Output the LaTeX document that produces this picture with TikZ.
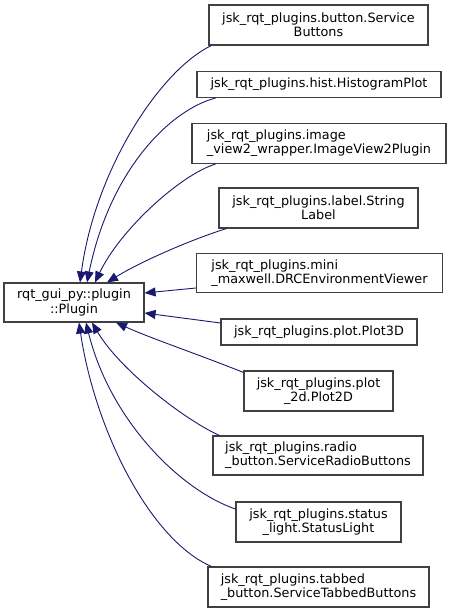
\documentclass[tikz,border=0pt]{standalone}
\usepackage{fontspec}
\setmainfont{DejaVu Sans}
\usetikzlibrary{arrows.meta,calc}
\definecolor{edgeblue}{HTML}{191970}
\definecolor{boxgray}{HTML}{404040}
\begin{document}
\begin{tikzpicture}[x=1pt,y=-1pt,
  cls/.style={draw=boxgray, line width=1.1pt, fill=white, inner sep=0pt,
    font=\fontsize{12.8}{14.2}\selectfont, text=black},
  inh/.style={draw=edgeblue, line width=0.9pt,
    -{Triangle[length=11pt,width=9pt,fill=edgeblue]}}]
\useasboundingbox (0,0) rectangle (451,613);
\fill[white] (0,0) rectangle (451,613);

\node[cls, minimum width=140pt, minimum height=39pt, align=center] (plug) at (74,302.5)
  {rqt\_gui\_py::plugin\\::Plugin};

\node[cls, minimum width=219pt, minimum height=40pt, align=center] (b1) at (318.5,25)
  {jsk\_rqt\_plugins.button.Service\\Buttons};
\node[cls, minimum width=244pt, minimum height=26pt, align=center] (b2) at (319,84.5)
  {jsk\_rqt\_plugins.hist.HistogramPlot};
\node[cls, minimum width=254pt, minimum height=40pt, align=left] (b3) at (319,143.5)
  {jsk\_rqt\_plugins.image\\\_view2\_wrapper.ImageView2Plugin};
\node[cls, minimum width=199pt, minimum height=40pt, align=center] (b4) at (318.5,208)
  {jsk\_rqt\_plugins.label.String\\Label};
\node[cls, minimum width=246pt, minimum height=39pt, align=left] (b5) at (319.5,273)
  {jsk\_rqt\_plugins.mini\\\_maxwell.DRCEnvironmentViewer};
\node[cls, minimum width=196pt, minimum height=26pt, align=center] (b6) at (319,332)
  {jsk\_rqt\_plugins.plot.Plot3D};
\node[cls, minimum width=149pt, minimum height=40pt, align=center] (b7) at (318.5,391)
  {jsk\_rqt\_plugins.plot\\\_2d.Plot2D};
\node[cls, minimum width=210pt, minimum height=39pt, align=left] (b8) at (318,455.5)
  {jsk\_rqt\_plugins.radio\\\_button.ServiceRadioButtons};
\node[cls, minimum width=165pt, minimum height=40pt, align=center] (b9) at (318.5,522)
  {jsk\_rqt\_plugins.status\\\_light.StatusLight};
\node[cls, minimum width=221pt, minimum height=40pt, align=left] (b10) at (318.5,587)
  {jsk\_rqt\_plugins.tabbed\\\_button.ServiceTabbedButtons};

\draw[inh] ($(b1.south west)+(3,0)$) .. controls (160,70) and (95,170) .. ($(plug.north)+(6,0)$);
\draw[inh] ($(b2.south west)+(19,0)$) .. controls (170,110) and (110,170) .. ($(plug.north)+(13,0)$);
\draw[inh] ($(b3.south west)+(24,0)$) .. controls (180,175) and (120,230) .. ($(plug.north)+(21,0)$);
\draw[inh] ($(b4.south west)+(8,0)$) .. controls (190,240) and (140,262) .. ($(plug.north)+(33,0)$);
\draw[inh] ($(b5.west)+(0,15)$) -- ($(plug.east)+(0,-9.5)$);
\draw[inh] ($(b6.west)+(0,-9)$) -- ($(plug.east)+(0,10.5)$);
\draw[inh] ($(b7.north west)+(0,2)$) .. controls (200,355) and (150,338) .. ($(plug.south)+(42,0)$);
\draw[inh] ($(b8.north west)+(7,0)$) .. controls (185,420) and (120,370) .. ($(plug.south)+(18,0)$);
\draw[inh] ($(b9.west)+(0,-13)$) .. controls (180,490) and (110,420) .. ($(plug.south)+(12,0)$);
\draw[inh] ($(b10.north west)+(4,0)$) .. controls (150,540) and (95,430) .. ($(plug.south)+(5,0)$);
\end{tikzpicture}
\end{document}
